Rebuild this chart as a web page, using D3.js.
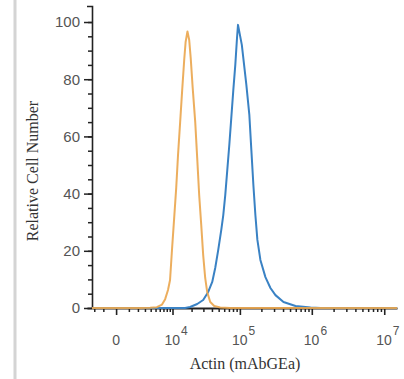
<!DOCTYPE html>
<html>
<head>
<meta charset="utf-8">
<script src="https://cdn.jsdelivr.net/npm/d3@7"></script>
<style>
  body { margin: 0; background: #fff; }
  svg { display: block; }
</style>
</head>
<body>
<svg id="chart" width="404" height="379"></svg>
<script>
// histogram data (fluorescence intensity vs relative cell number)
var isotypeX = [-2300, 2300, 3900, 5300, 6600, 7500, 8400, 9100, 9800, 10600, 11500, 12300, 13300, 14300, 15400, 16200, 17300,
                18400, 19400, 20800, 22700, 24300, 26000, 27900, 29800, 31900, 34100, 37800, 43200, 52700, 73000, 15000000]
var isotypeY = [0, 0, 0.1, 0.3, 1.2, 3.1, 6.3, 9.8, 20.3, 30.8, 42, 53.5, 65, 76, 86.7, 93, 96.7,
                93.7, 87.4, 76.9, 65, 52.4, 39.5, 29, 18.5, 10.5, 5.6, 2.1, 0.7, 0.2, 0, 0]

var actinX = [-2300, 15900, 19000, 24300, 29800, 35300, 40400, 44600, 49300, 54500, 58200, 62100, 66400, 70900, 75600, 80800, 86200, 91100, 94100,
              106500, 111800, 123300, 135800, 144900, 154600, 164900, 175900, 193700, 227600, 267200, 313800, 405400, 595400, 961400, 1323000, 15000000]
var actinY = [0, 0, 0.35, 1.4, 2.8, 5.6, 9.1, 14, 20.3, 27.3, 32.5, 39.5, 48.3, 57, 66.4, 76.2, 85, 94.4, 99,
              92, 87.4, 78, 67.5, 55.2, 43, 32.5, 23.8, 16.8, 10.8, 7, 4.5, 2.1, 0.7, 0.2, 0, 0]

var xMajor = [0, 1e4, 1e5, 1e6, 1e7]
var xMinor = [-2000, -1000, 1000, 2000, 3000, 4000, 5000, 6000, 7000, 8000, 9000,
              2e4, 3e4, 4e4, 5e4, 6e4, 7e4, 8e4, 9e4,
              2e5, 3e5, 4e5, 5e5, 6e5, 7e5, 8e5, 9e5,
              2e6, 3e6, 4e6, 5e6, 6e6, 7e6, 8e6, 9e6]
var yMajor = [0, 20, 40, 60, 80, 100]
var yMinor = d3.range(0, 101, 5)

var svg = d3.select("#chart")

// light grey frame line on the left
svg.append("line")
    .attr("x1", 15).attr("x2", 15).attr("y1", 0).attr("y2", 379)
    .attr("stroke", "#d4d4d4").attr("stroke-width", 3)

var scaleX = d3.scaleSymlog()
                .constant(2000)
                .domain([-2300, 1.5e7])
                .range([92, 397])

var scaleY = d3.scaleLinear()
                .domain([0, 105.6])
                .range([308, 6])

// y axis
var yMinorAxis = d3.axisLeft(scaleY).tickValues(yMinor).tickSize(4).tickFormat("")
var yMajorAxis = d3.axisLeft(scaleY).tickValues(yMajor).tickSize(8).tickSizeOuter(5).tickPadding(4)

var gy = svg.append("g").attr("transform", "translate(92,0)")
gy.call(yMinorAxis)
gy.selectAll(".domain").remove()
var gy2 = svg.append("g").attr("transform", "translate(92,0)").call(yMajorAxis)
svg.selectAll("g line").attr("stroke", "#222").attr("stroke-width", 1.5)
gy2.select(".domain").attr("stroke", "#222").attr("stroke-width", 1.6)
gy2.selectAll("text")
    .attr("font-family", "Liberation Sans, Arial, sans-serif")
    .attr("font-size", 15)
    .attr("fill", "#555")

// x axis
var xMinorAxis = d3.axisBottom(scaleX).tickValues(xMinor).tickSize(4).tickFormat("")
var xMajorAxis = d3.axisBottom(scaleX).tickValues(xMajor).tickSize(7).tickSizeOuter(0).tickFormat("")

var gx = svg.append("g").attr("transform", "translate(0,308)")
gx.call(xMinorAxis)
gx.selectAll(".domain").remove()
gx.selectAll("line").attr("stroke", "#222").attr("stroke-width", 1.5)
var gx2 = svg.append("g").attr("transform", "translate(0,308)").call(xMajorAxis)
gx2.selectAll("line").attr("stroke", "#222").attr("stroke-width", 1.6)
gx2.select(".domain").attr("stroke", "#222").attr("stroke-width", 2)

// x tick labels: 0 and powers of ten
var labels = svg.append("g")
                .attr("font-family", "Liberation Sans, Arial, sans-serif")
                .attr("fill", "#555")
labels.selectAll("text")
    .data(xMajor).enter()
    .append("text")
    .attr("x", d => d === 0 ? scaleX(d) : scaleX(d) - 8)
    .attr("y", 345)
    .attr("text-anchor", d => d === 0 ? "middle" : "start")
    .attr("font-size", 14)
    .each(function(d) {
        var t = d3.select(this)
        if (d === 0) { t.text("0"); return }
        t.append("tspan").text("10")
        t.append("tspan").attr("dy", -10).attr("dx", 1).attr("font-size", 12).text(Math.round(Math.log10(d)))
    })

// curves
var line = d3.line()
            .x(d => scaleX(d[0]))
            .y(d => scaleY(d[1]))

svg.append("path")
    .datum(actinX.map((v, i) => [v, actinY[i]]))
    .attr("d", line)
    .attr("fill", "none")
    .attr("stroke", "#3a82c4")
    .attr("stroke-width", 2)
    .attr("stroke-linejoin", "round")

svg.append("path")
    .datum(isotypeX.map((v, i) => [v, isotypeY[i]]))
    .attr("d", line)
    .attr("fill", "none")
    .attr("stroke", "#eaa54c")
    .attr("stroke-opacity", 0.9)
    .attr("stroke-width", 2)
    .attr("stroke-linejoin", "round")

// axis titles
svg.append("text")
    .attr("x", 245).attr("y", 369)
    .attr("text-anchor", "middle")
    .attr("font-family", "Liberation Serif, Times New Roman, serif")
    .attr("font-size", 16)
    .attr("fill", "#333")
    .text("Actin (mAbGEa)")

svg.append("text")
    .attr("transform", "translate(38,171) rotate(-90)")
    .attr("text-anchor", "middle")
    .attr("font-family", "Liberation Serif, Times New Roman, serif")
    .attr("font-size", 16)
    .attr("fill", "#333")
    .text("Relative Cell Number")
</script>
</body>
</html>
